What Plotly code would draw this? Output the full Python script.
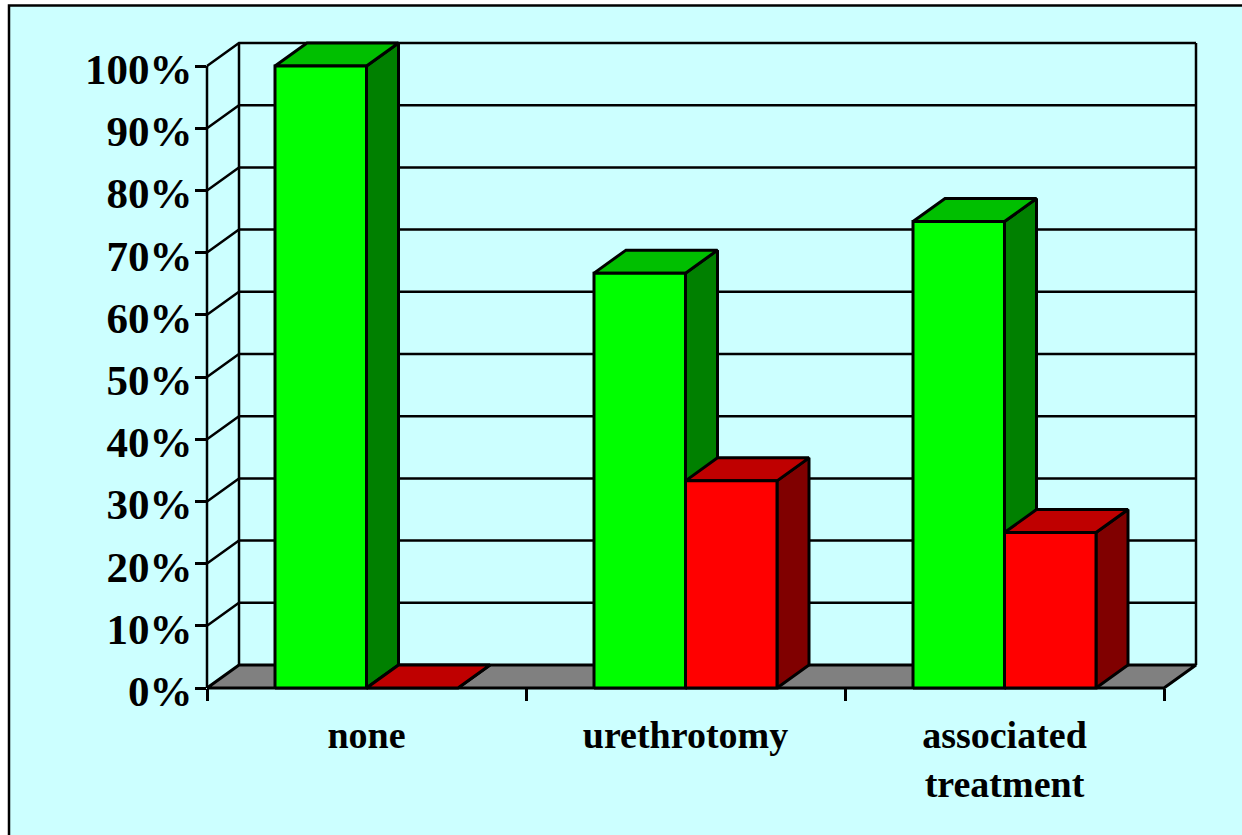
import plotly.graph_objects as go

categories = ["none", "urethrotomy", "associated<br>treatment"]
green_values = [100, 66.7, 75]
red_values = [0, 33.3, 25]
y_ticks = [0, 10, 20, 30, 40, 50, 60, 70, 80, 90, 100]

W, H = 1242, 835
L, R, T, B = 207, 1196, 43, 688
PAD = 6
X_UNIT = 319.0
Y_UNIT = 6.22
DX = 32 / X_UNIT
DY = 23 / Y_UNIT
BAR_W = 91.5 / X_UNIT
LW = 3
GW = 2.5
BLACK = "#000000"

fig = go.Figure()

# holds the visible axes; the marks live on a slightly larger, hidden subplot with the same scale
fig.add_trace(go.Scatter(x=[None], y=[None], xaxis="x", yaxis="y", hoverinfo="skip", showlegend=False))


def poly(xs, ys, fill, lw=LW):
    fig.add_trace(go.Scatter(
        x=xs + xs[:1], y=ys + ys[:1], xaxis="x2", yaxis="y2", mode="lines", fill="toself", fillcolor=fill,
        line=dict(color=BLACK, width=lw), hoverinfo="skip", showlegend=False))


def line(xs, ys, lw=GW):
    fig.add_trace(go.Scatter(
        x=xs, y=ys, xaxis="x2", yaxis="y2", mode="lines", line=dict(color=BLACK, width=lw),
        hoverinfo="skip", showlegend=False))


def bar3d(x0, v, front, top, side):
    x1 = x0 + BAR_W
    poly([x1, x1 + DX, x1 + DX, x1], [0, DY, v + DY, v], side)
    poly([x0, x1, x1 + DX, x0 + DX], [v, v, v + DY, v + DY], top)
    if v > 0:
        poly([x0, x1, x1, x0], [0, 0, v, v], front)


# walls and gridlines
for v in y_ticks:
    if v > 0:
        line([0, DX, 3 + DX], [v, v + DY, v + DY])
line([0, 0], [0, 100])
line([DX, DX], [DY, 100 + DY])
line([3 + DX, 3 + DX], [DY, 100 + DY])
# floor
poly([0, 3, 3 + DX, DX], [0, 0, DY, DY], "#808080")

# bars
for i, (g, r) in enumerate(zip(green_values, red_values)):
    centre = i + 0.5
    bar3d(centre - BAR_W, g, "#00FF00", "#00BF00", "#008000")
    bar3d(centre, r, "#FF0000", "#BF0000", "#800000")

font_family = "Liberation Serif, Times New Roman, serif"
plot_w = R - L + 2 * PAD
plot_h = B - T + 2 * PAD
fig.update_layout(
    width=W, height=H, autosize=False,
    margin=dict(l=L - PAD, r=W - R - PAD, t=T - PAD, b=H - B - PAD, pad=0),
    paper_bgcolor="#FFFFFF", plot_bgcolor="rgba(0,0,0,0)",
    showlegend=False,
    font=dict(family=font_family, color=BLACK),
    xaxis=dict(
        domain=[PAD / plot_w, 1 - PAD / plot_w], anchor="y",
        range=[0, 3 + DX], showgrid=False, zeroline=False, showline=False,
        tickmode="array", tickvals=[0.5, 1.5, 2.5],
        ticktext=[f"<b>{c}</b>".replace("<br>", "</b><br><b>") for c in categories],
        ticks="", ticklabelstandoff=21, tickangle=0,
        tickfont=dict(size=38, family=font_family, color=BLACK),
        minor=dict(tickmode="array", tickvals=[0, 1, 2, 3], ticks="outside", ticklen=12,
                   tickwidth=2.5, tickcolor=BLACK, showgrid=False),
    ),
    yaxis=dict(
        domain=[PAD / plot_h, 1 - PAD / plot_h], anchor="x",
        range=[0, 100 + DY], showgrid=False, zeroline=False, showline=False,
        tickmode="array", tickvals=y_ticks, ticktext=[f"<b>{v}%</b>" for v in y_ticks],
        ticks="outside", ticklen=11, tickwidth=2.5, tickcolor=BLACK,
        tickfont=dict(size=43, family=font_family, color=BLACK),
        ticklabelshift=3, ticklabelstandoff=-6,
    ),
    xaxis2=dict(
        domain=[0, 1], anchor="y2", visible=False,
        range=[-PAD / X_UNIT, 3 + DX + PAD / X_UNIT],
    ),
    yaxis2=dict(
        domain=[0, 1], anchor="x2", visible=False,
        range=[-PAD / Y_UNIT, 100 + DY + PAD / Y_UNIT],
    ),
    shapes=[dict(
        type="rect", xref="paper", yref="paper", layer="below",
        x0=(9 - L + PAD) / plot_w, x1=(W + 20 - L + PAD) / plot_w,
        y0=(B + PAD - H - 20) / plot_h, y1=(B + PAD - 5.5) / plot_h,
        fillcolor="#CCFFFF", line=dict(color=BLACK, width=2.5),
    )],
)

fig.write_html("out.html", post_script="document.body.style.margin='0';document.body.style.overflow='hidden';",
               config={"displayModeBar": False})
